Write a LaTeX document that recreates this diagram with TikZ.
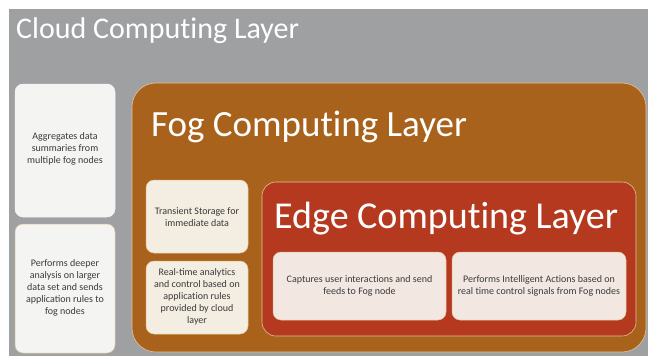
\documentclass[tikz,border=0pt]{standalone}
\usepackage{fontspec}
\setmainfont{Carlito}
\newcommand\tIfix{t\kern0pt i}
\definecolor{bggray}{HTML}{9EA0A1}
\definecolor{fogorange}{HTML}{A8621B}
\definecolor{edgered}{HTML}{B5391F}
\definecolor{cloudbox}{HTML}{F4F4F2}
\definecolor{fogbox}{HTML}{F3EDE2}
\definecolor{edgebox}{HTML}{F3E7E2}
\definecolor{txt}{HTML}{3A3A3A}
\definecolor{rim}{HTML}{E2C39A}
\tikzset{
  card/.style={rounded corners=8pt, draw=rim, line width=0.5pt},
  cardtext/.style={text=txt, font=\fontsize{10}{12}\selectfont, align=center},
  title/.style={text=white, anchor=west, inner sep=0pt}
}
\begin{document}
\begin{tikzpicture}[x=1pt,y=-1pt]
\useasboundingbox (0,0) rectangle (648,356);
\fill[white] (0,0) rectangle (648,356);
\fill[bggray] (9,9) rectangle (648,356);
\node[title, font=\fontsize{30}{30}\selectfont] (cloudt) at (16,31) {Cloud Compu\tIfix ng Layer};
% cloud cards
\filldraw[card, fill=cloudbox, draw=cloudbox] (15,84) rectangle (115,217);
\node[cardtext] (c1) at (65,149) {Aggregates data\\summaries from\\multiple fog nodes};
\filldraw[card, fill=cloudbox] (15,224) rectangle (115,353);
\node[cardtext] (c2) at (65,288) {Performs deeper\\analysis on larger\\data set and sends\\application rules to\\fog nodes};
% fog layer
\filldraw[fill=fogorange, draw=rim, line width=0.6pt, rounded corners=24pt] (132,83) rectangle (646,352);
\node[title, font=\fontsize{37}{37}\selectfont] (fogt) at (151,127) {Fog Compu\tIfix ng Layer};
\filldraw[card, fill=fogbox] (146,180) rectangle (248,253);
\node[cardtext] (f1) at (197,217) {Transient Storage for\\immediate data};
\filldraw[card, fill=fogbox] (146,261) rectangle (248,334);
\node[cardtext] (f2) at (197,297) {Real-time analy\tIfix cs\\and control based on\\applica\tIfix on rules\\provided by cloud\\layer};
% edge layer
\filldraw[fill=edgered, draw=rim, line width=0.6pt, rounded corners=14pt] (262,182) rectangle (636,336);
\node[title, font=\fontsize{38}{38}\selectfont] (edget) at (274,219) {Edge Compu\tIfix ng Layer};
\filldraw[card, fill=edgebox] (273,252) rectangle (446,320);
\node[cardtext] (e1) at (359.5,286) {Captures user interac\tIfix ons and send\\feeds to Fog node};
\filldraw[card, fill=edgebox] (452,252) rectangle (626,320);
\node[cardtext] (e2) at (539,286) {Performs Intelligent Ac\tIfix ons based on\\real \tIfix me control signals from Fog nodes};
\end{tikzpicture}
\end{document}
